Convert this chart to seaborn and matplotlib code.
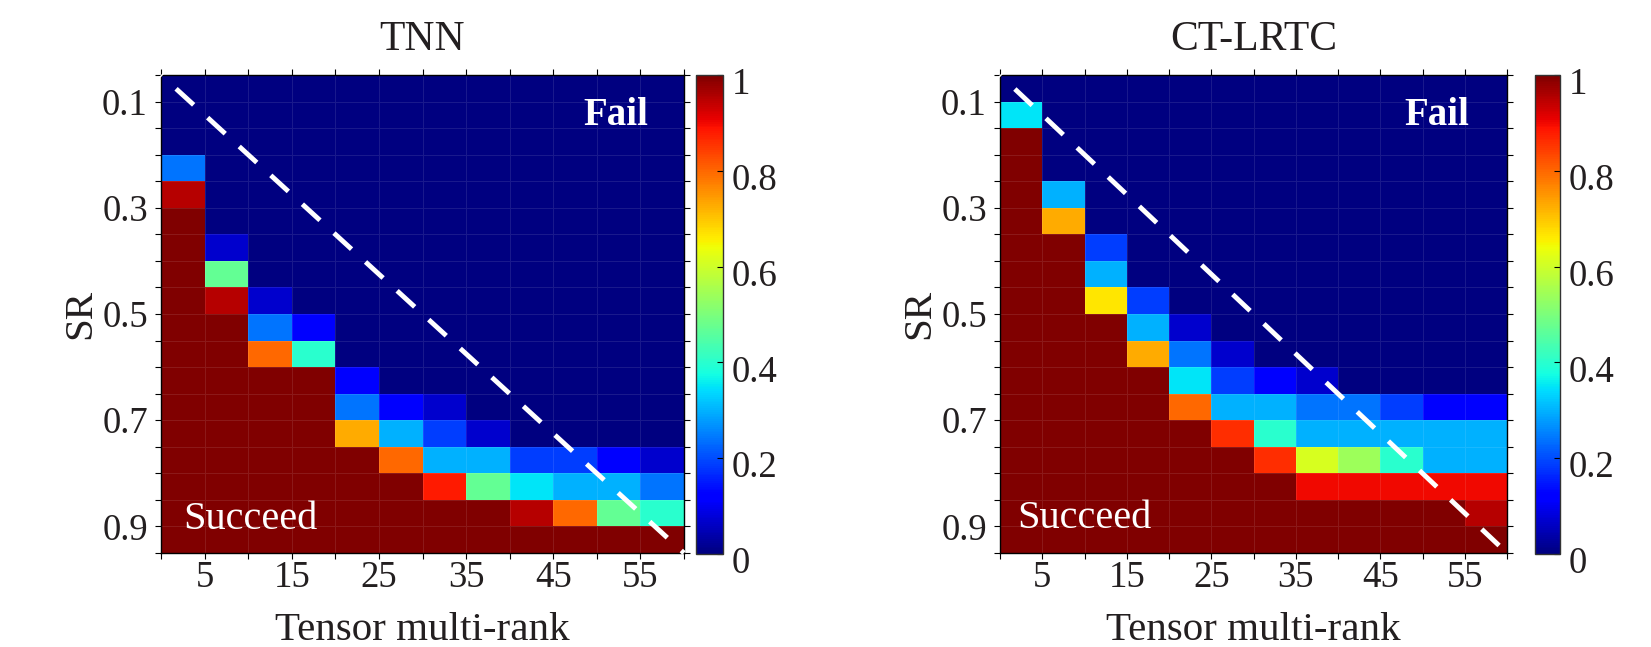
import numpy as np
import matplotlib
matplotlib.use("Agg")
import matplotlib.pyplot as plt
import matplotlib.transforms as mtransforms
import seaborn as sns

# ---------------- data ----------------
ranks = [5, 15, 25, 35, 45, 55]          # x tick labels (at cell boundaries 1,3,...,11)
sr_labels = ["0.1", "0.3", "0.5", "0.7", "0.9"]  # y tick labels (at row boundaries 1,5,9,13,17)
cbar_ticks = [0, 0.2, 0.4, 0.6, 0.8, 1]
cbar_ticklabels = ["0", "0.2", "0.4", "0.6", "0.8", "1"]
titles = ["TNN", "CT-LRTC"]

tnn = [
    [0, 0, 0, 0, 0, 0, 0, 0, 0, 0, 0, 0],
    [0, 0, 0, 0, 0, 0, 0, 0, 0, 0, 0, 0],
    [0, 0, 0, 0, 0, 0, 0, 0, 0, 0, 0, 0],
    [0.24, 0, 0, 0, 0, 0, 0, 0, 0, 0, 0, 0],
    [0.95, 0, 0, 0, 0, 0, 0, 0, 0, 0, 0, 0],
    [1, 0, 0, 0, 0, 0, 0, 0, 0, 0, 0, 0],
    [1, 0.07, 0, 0, 0, 0, 0, 0, 0, 0, 0, 0],
    [1, 0.47, 0, 0, 0, 0, 0, 0, 0, 0, 0, 0],
    [1, 0.95, 0.07, 0, 0, 0, 0, 0, 0, 0, 0, 0],
    [1, 1, 0.24, 0.12, 0, 0, 0, 0, 0, 0, 0, 0],
    [1, 1, 0.80, 0.40, 0, 0, 0, 0, 0, 0, 0, 0],
    [1, 1, 1, 1, 0.12, 0, 0, 0, 0, 0, 0, 0],
    [1, 1, 1, 1, 0.24, 0.12, 0.07, 0, 0, 0, 0, 0],
    [1, 1, 1, 1, 0.73, 0.30, 0.185, 0.07, 0, 0, 0, 0],
    [1, 1, 1, 1, 1, 0.80, 0.30, 0.30, 0.185, 0.185, 0.12, 0.07],
    [1, 1, 1, 1, 1, 1, 0.88, 0.47, 0.35, 0.30, 0.30, 0.24],
    [1, 1, 1, 1, 1, 1, 1, 1, 0.95, 0.80, 0.47, 0.40],
    [1, 1, 1, 1, 1, 1, 1, 1, 1, 1, 1, 1],
]

ctlrtc = [
    [0, 0, 0, 0, 0, 0, 0, 0, 0, 0, 0, 0],
    [0.35, 0, 0, 0, 0, 0, 0, 0, 0, 0, 0, 0],
    [1, 0, 0, 0, 0, 0, 0, 0, 0, 0, 0, 0],
    [1, 0, 0, 0, 0, 0, 0, 0, 0, 0, 0, 0],
    [1, 0.30, 0, 0, 0, 0, 0, 0, 0, 0, 0, 0],
    [1, 0.73, 0, 0, 0, 0, 0, 0, 0, 0, 0, 0],
    [1, 1, 0.185, 0, 0, 0, 0, 0, 0, 0, 0, 0],
    [1, 1, 0.30, 0, 0, 0, 0, 0, 0, 0, 0, 0],
    [1, 1, 0.667, 0.185, 0, 0, 0, 0, 0, 0, 0, 0],
    [1, 1, 1, 0.30, 0.07, 0, 0, 0, 0, 0, 0, 0],
    [1, 1, 1, 0.73, 0.24, 0.07, 0, 0, 0, 0, 0, 0],
    [1, 1, 1, 1, 0.35, 0.185, 0.12, 0.07, 0, 0, 0, 0],
    [1, 1, 1, 1, 0.80, 0.30, 0.30, 0.24, 0.24, 0.185, 0.12, 0.12],
    [1, 1, 1, 1, 1, 0.86, 0.40, 0.30, 0.30, 0.30, 0.30, 0.30],
    [1, 1, 1, 1, 1, 1, 0.86, 0.61, 0.54, 0.40, 0.30, 0.30],
    [1, 1, 1, 1, 1, 1, 1, 0.90, 0.90, 0.90, 0.90, 0.90],
    [1, 1, 1, 1, 1, 1, 1, 1, 1, 1, 1, 0.95],
    [1, 1, 1, 1, 1, 1, 1, 1, 1, 1, 1, 1],
]

# ---------------- style ----------------
W, H = 1651, 647
fig = plt.figure(figsize=(W / 100, H / 100), dpi=100)
plt.rcParams['font.family'] = ['Liberation Serif', 'DejaVu Serif']
TXT = '#231f20'


def frac(x0, y0, x1, y1):
    return [x0 / W, 1 - y1 / H, (x1 - x0) / W, (y1 - y0) / H]


panels = [
    dict(data=tnn, title=titles[0], ax=frac(161, 75, 684, 553), cax=frac(696, 75, 723, 554),
         fail=(10.44, 1.88), succ=(2.04, 17.1)),
    dict(data=ctlrtc, title=titles[1], ax=frac(1000, 75, 1507, 553), cax=frac(1535, 75, 1560, 554),
         fail=(10.34, 1.88), succ=(2.0, 17.05)),
]

for p in panels:
    ax = fig.add_axes(p['ax'])
    cax = fig.add_axes(p['cax'])
    data = np.array(p['data'], dtype=float)
    nrow, ncol = data.shape
    sns.heatmap(data, ax=ax, cbar_ax=cax, cmap='jet', vmin=0, vmax=1,
                linewidths=0.7, linecolor=(1, 1, 1, 0.10),
                xticklabels=False, yticklabels=False)

    # spines back on
    for s in ax.spines.values():
        s.set_visible(True)
        s.set_color('black')
        s.set_linewidth(1.0)

    # x ticks at all column boundaries, labels at odd ones
    xt = list(range(ncol + 1))
    xl = [''] * (ncol + 1)
    for i, r in enumerate(ranks):
        xl[2 * i + 1] = str(r)
    ax.set_xticks(xt)
    ax.set_xticklabels(xl)
    yt = list(range(nrow + 1))
    yl = [''] * (nrow + 1)
    for i, s in enumerate(sr_labels):
        yl[4 * i + 1] = s
    ax.set_yticks(yt)
    ax.set_yticklabels(yl, rotation=0)
    ax.tick_params(axis='both', which='both', direction='out', length=4.5, width=0.8,
                   color='black', labelsize=26.5, labelcolor=TXT,
                   top=True, right=True, bottom=True, left=True,
                   labeltop=False, labelright=False)
    ax.tick_params(axis='x', pad=1)
    ax.tick_params(axis='y', pad=5)

    # labels
    ax.set_xlabel('Tensor multi-rank', fontsize=29.5, color=TXT)
    ax.xaxis.label.set_va('baseline')
    ax.xaxis.set_label_coords(0.5, -(640 - 553) / 478)
    ax.set_ylabel('SR', fontsize=29.5, color=TXT)
    ax.yaxis.label.set_va('center')
    ax.yaxis.set_label_coords(-80 / (p['ax'][2] * W), 0.5)

    ax.text(0.5, 1 + (75 - 50) / 478, p['title'], transform=ax.transAxes,
            ha='center', va='baseline', fontsize=30, color=TXT)

    # dashed diagonal
    ax.plot([0, ncol], [0, nrow], color='white', lw=3.5,
            linestyle=(4.6, (4.9, 3.9)), dash_capstyle='butt', clip_on=False, zorder=5)

    ax.text(p['fail'][0], p['fail'][1], 'Fail', color='white', fontsize=28,
            fontweight='bold', ha='center', va='baseline', zorder=6)
    ax.text(p['succ'][0], p['succ'][1], 'Succeed', color='white', fontsize=29,
            ha='center', va='baseline', zorder=6)

    # colorbar
    cb = ax.collections[0].colorbar
    cb.set_ticks(cbar_ticks)
    cb.set_ticklabels(cbar_ticklabels)
    cb.outline.set_linewidth(1.0)
    cb.outline.set_edgecolor('#333333')
    cax.tick_params(direction='in', length=4, width=0.8, labelsize=26.5,
                    labelcolor=TXT, pad=6, right=True, left=False)
    off = mtransforms.ScaledTranslation(0, -6 / 100, fig.dpi_scale_trans)
    for lab in cax.get_yticklabels():
        lab.set_transform(lab.get_transform() + off)

fig.savefig('out.png', dpi=100, facecolor='white')
